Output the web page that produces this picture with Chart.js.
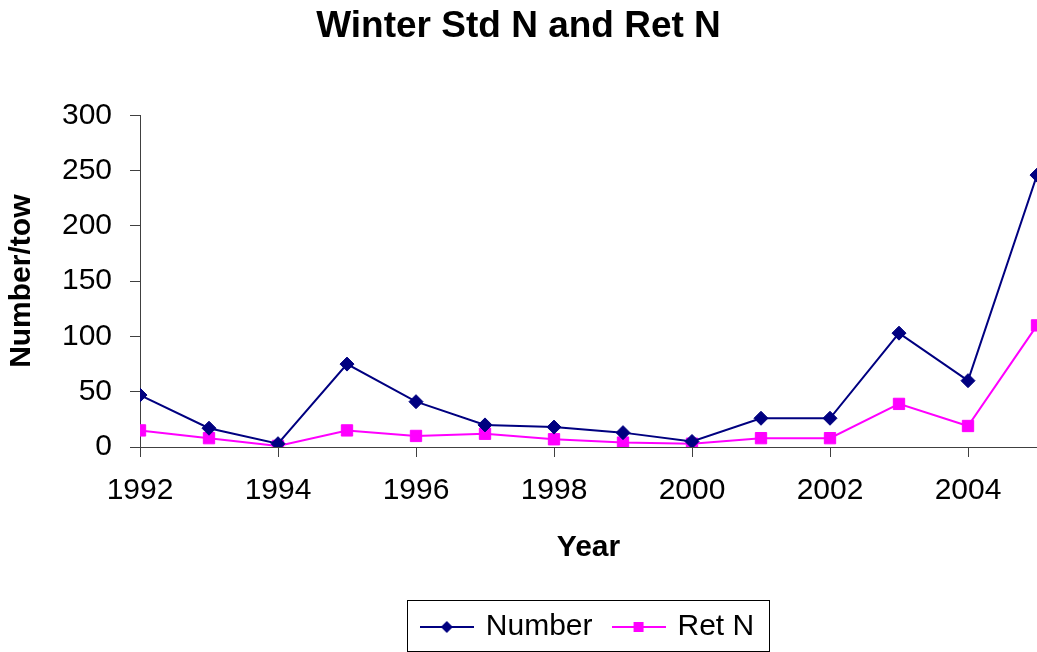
<!DOCTYPE html>
<html>
<head>
<meta charset="utf-8">
<script src="https://cdn.jsdelivr.net/npm/chart.js@4.4.0/dist/chart.umd.min.js"></script>
<style>
  html, body { margin: 0; padding: 0; background: #fff; }
  #wrap { width: 1037px; height: 652px; }
</style>
</head>
<body>
<div id="wrap"><canvas id="line-chart" width="1037" height="652"></canvas></div>
<script>
// Data
const years = [1992, 1993, 1994, 1995, 1996, 1997, 1998, 1999, 2000, 2001, 2002, 2003, 2004, 2005];
const numberVals = [47, 17, 3, 75, 41, 20, 18, 13, 5, 26, 26, 103, 60, 246];
const retNVals = [15, 8, 1, 15, 10, 12, 7, 4, 3, 8, 8, 39, 19, 110];
const yTicks = [0, 50, 100, 150, 200, 250, 300];
const xTicks = [1992, 1994, 1996, 1998, 2000, 2002, 2004];

const NAVY = '#000080';
const PINK = '#FF00FF';
const AXIS = '#404040';
const FONT = "'Liberation Sans', Arial, Helvetica, sans-serif";

function toXY(vals) {
  return years.map((y, i) => ({ x: y, y: vals[i] }));
}

// little line+marker icon for the legend
function legendIcon(color, shape) {
  const c = document.createElement('canvas');
  c.width = 54; c.height = 18;
  const g = c.getContext('2d');
  g.strokeStyle = color;
  g.lineWidth = 2;
  g.beginPath(); g.moveTo(0, 9); g.lineTo(54, 9); g.stroke();
  g.fillStyle = color;
  g.beginPath();
  if (shape === 'diamond') {
    g.moveTo(27, 3); g.lineTo(33, 9); g.lineTo(27, 15); g.lineTo(21, 9);
  } else {
    g.rect(22, 4, 10, 10);
  }
  g.closePath(); g.fill();
  return c;
}

//Legend frame
const legendFrame = {
  id: 'legendFrame',
  afterDraw(chart) {
    const boxes = chart.legend && chart.legend.legendHitBoxes;
    if (!boxes || !boxes.length) return;
    let l = Infinity, r = -Infinity, t = Infinity, b = -Infinity;
    boxes.forEach(h => {
      l = Math.min(l, h.left); r = Math.max(r, h.left + h.width);
      t = Math.min(t, h.top); b = Math.max(b, h.top + h.height);
    });
    const ctx = chart.ctx;
    ctx.save();
    ctx.strokeStyle = '#000';
    ctx.lineWidth = 1;
    ctx.strokeRect(Math.round(l - 16) + 0.5, Math.round(t - 12) + 0.5, Math.round(r - l + 31), Math.round(b - t + 21));
    ctx.restore();
  }
};

const ctx = document.getElementById('line-chart').getContext('2d');
const chart = new Chart(ctx, {
  type: 'line',
  data: {
    datasets: [{
      label: 'Number',
      data: toXY(numberVals),
      borderColor: NAVY,
      backgroundColor: NAVY,
      borderWidth: 2,
      pointStyle: 'rectRot',
      pointRadius: 7,
      pointBorderWidth: 1,
      tension: 0
    }, {
      label: 'Ret N',
      data: toXY(retNVals),
      borderColor: PINK,
      backgroundColor: PINK,
      borderWidth: 2,
      pointStyle: 'rect',
      pointRadius: 8,
      pointBorderWidth: 1,
      tension: 0
    }]
  },
  options: {
    responsive: false,
    animation: false,
    layout: { autoPadding: false, padding: { left: 0, right: 0, top: 0, bottom: 0 } },
    plugins: {
      title: {
        display: true,
        text: 'Winter Std N and Ret N',
        color: '#000',
        font: { family: FONT, size: 37, weight: 'bold' },
        padding: { top: 5, bottom: 66 }
      },
      legend: {
        position: 'bottom',
        fullSize: false,
        labels: {
          usePointStyle: true,
          pointStyleWidth: 48,
          boxHeight: 18,
          padding: 22,
          color: '#000',
          font: { family: FONT, size: 30 },
          generateLabels(c) {
            return c.data.datasets.map((ds, i) => ({
              text: ds.label,
              datasetIndex: i,
              fillStyle: ds.borderColor,
              strokeStyle: ds.borderColor,
              lineWidth: 0,
              pointStyle: legendIcon(ds.borderColor, i === 0 ? 'diamond' : 'square'),
              hidden: false
            }));
          }
        }
      },
      tooltip: { enabled: false }
    },
    scales: {
      x: {
        type: 'linear',
        min: years[0],
        max: years[years.length - 1],
        afterBuildTicks(scale) {
          scale.ticks = xTicks.map(v => ({ value: v }));
        },
        ticks: {
          includeBounds: false,
          maxRotation: 0,
          padding: 16,
          color: '#000',
          font: { family: FONT, size: 30 },
          callback: v => String(v)
        },
        grid: { drawOnChartArea: false, drawTicks: true, tickLength: 10, color: AXIS },
        border: { display: true, color: AXIS, width: 1 },
        title: {
          display: true,
          text: 'Year',
          color: '#000',
          font: { family: FONT, size: 30, weight: 'bold' },
          padding: { top: 5, bottom: 24 }
        }
      },
      y: {
        min: 0,
        max: 300,
        afterBuildTicks(scale) {
          scale.ticks = yTicks.map(v => ({ value: v }));
        },
        afterFit(scale) { scale.width = 140; },
        ticks: {
          padding: 18,
          color: '#000',
          font: { family: FONT, size: 30 }
        },
        grid: { drawOnChartArea: false, drawTicks: true, tickLength: 10, color: AXIS },
        border: { display: true, color: AXIS, width: 1 },
        title: {
          display: true,
          text: 'Number/tow',
          color: '#000',
          font: { family: FONT, size: 30, weight: 'bold' },
          padding: { top: 4, bottom: 0 }
        }
      }
    }
  },
  plugins: [legendFrame]
});
</script>
</body>
</html>
